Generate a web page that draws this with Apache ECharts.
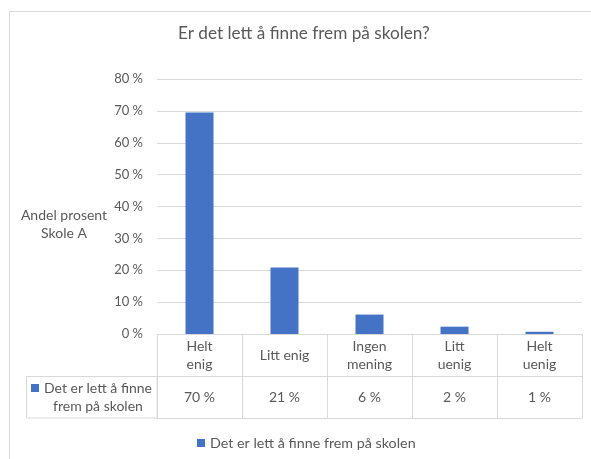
<!DOCTYPE html>
<html>
<head>
<meta charset="utf-8">
<script src="https://cdn.jsdelivr.net/npm/echarts@6/dist/echarts.min.js"></script>
<style>
  html, body { margin: 0; padding: 0; background: #fff; }
  #chart { width: 591px; height: 459px; }
</style>
</head>
<body>
<div id="chart"></div>
<script>
// data
const titleText = 'Er det lett å finne frem på skolen?';
const seriesName = 'Det er lett å finne frem på skolen';
const headerLines = ['Det er lett å finne', 'frem på skolen'];
const categories = ['Helt\nenig', 'Litt enig', 'Ingen\nmening', 'Litt\nuenig', 'Helt\nuenig'];
const values = [69.5, 20.9, 6.1, 2.3, 0.7];
const tableLabels = ['70 %', '21 %', '6 %', '2 %', '1 %'];
const yAxisTitle = 'Andel prosent\nSkole A';

const FONT = 'Lato';
const TXT = '#595959';
const LINE = '#d9d9d9';
const BAR = '#4472c4';

const chart = echarts.init(document.getElementById('chart'));

chart.setOption({
  animation: false,
  textStyle: { fontFamily: FONT },
  title: {
    text: titleText,
    left: 178,
    top: 24,
    padding: 0,
    textStyle: { fontFamily: FONT, fontSize: 17.2, fontWeight: 'normal', color: TXT, lineHeight: 18 }
  },
  legend: [
    {
      // bottom legend
      data: [seriesName],
      left: 197,
      top: 435,
      padding: 0,
      icon: 'rect',
      itemWidth: 8,
      itemHeight: 8,
      selectedMode: false,
      textStyle: { fontFamily: FONT, fontSize: 14.3, color: TXT, lineHeight: 16 }
    },
    {
      // row header of the data table
      data: [seriesName],
      left: 31,
      top: 361,
      padding: 0,
      icon: 'rect',
      itemWidth: 8,
      itemHeight: 8,
      selectedMode: false,
      formatter: () => '{a|' + headerLines[0] + '}\n{b|' + headerLines[1] + '}',
      textStyle: {
        fontFamily: FONT, fontSize: 14, color: TXT, lineHeight: 18,
        padding: [18, 0, 0, 0],
        rich: {
          a: { fontFamily: FONT, fontSize: 14, color: TXT, lineHeight: 18 },
          b: { fontFamily: FONT, fontSize: 14, color: TXT, lineHeight: 18, align: 'center' }
        }
      }
    }
  ],
  grid: {
    left: 157,
    right: 9,
    top: 79,
    bottom: 125,
    containLabel: false,
    outerBoundsMode: 'none'
  },
  xAxis: [
    {
      type: 'category',
      data: categories,
      position: 'bottom',
      axisLine: { show: true, lineStyle: { color: LINE } },
      axisTick: { show: true, length: 84, interval: 0, lineStyle: { color: LINE } },
      axisLabel: {
        interval: 0, margin: 21, verticalAlign: 'middle',
        fontFamily: FONT, fontSize: 14, lineHeight: 18, color: TXT
      }
    },
    {
      type: 'category',
      data: tableLabels,
      position: 'bottom',
      offset: 42,
      axisLine: { show: true, lineStyle: { color: LINE } },
      axisTick: { show: false },
      axisLabel: {
        interval: 0, margin: 21, verticalAlign: 'middle',
        fontFamily: FONT, fontSize: 14, color: TXT
      }
    },
    {
      type: 'category',
      data: tableLabels,
      position: 'bottom',
      offset: 84,
      axisLine: { show: true, lineStyle: { color: LINE } },
      axisTick: { show: false },
      axisLabel: { show: false }
    }
  ],
  yAxis: {
    type: 'value',
    min: 0,
    max: 80,
    interval: 10,
    name: yAxisTitle,
    nameLocation: 'middle',
    nameRotate: 0,
    nameGap: 93,
    nameTextStyle: {
      fontFamily: FONT, fontSize: 14, color: TXT, lineHeight: 18,
      align: 'center', verticalAlign: 'top'
    },
    axisLine: { show: false },
    axisTick: { show: false },
    splitLine: { lineStyle: { color: LINE } },
    axisLabel: {
      margin: 14, formatter: '{value} %',
      fontFamily: FONT, fontSize: 13, color: TXT
    }
  },
  series: [
    {
      name: seriesName,
      type: 'bar',
      xAxisIndex: 0,
      data: values,
      barWidth: 28,
      itemStyle: { color: BAR }
    }
  ],
  graphic: [
    {
      // outer chart-area frame
      type: 'rect',
      shape: { x: 9.5, y: 11.5, width: 700, height: 600 },
      style: { fill: 'none', stroke: LINE, lineWidth: 1 },
      silent: true
    },
    {
      // left cell of the data table
      type: 'rect',
      shape: { x: 26.5, y: 376.5, width: 130.5, height: 41.5 },
      style: { fill: 'none', stroke: LINE, lineWidth: 1 },
      silent: true
    }
  ]
});
</script>
</body>
</html>
